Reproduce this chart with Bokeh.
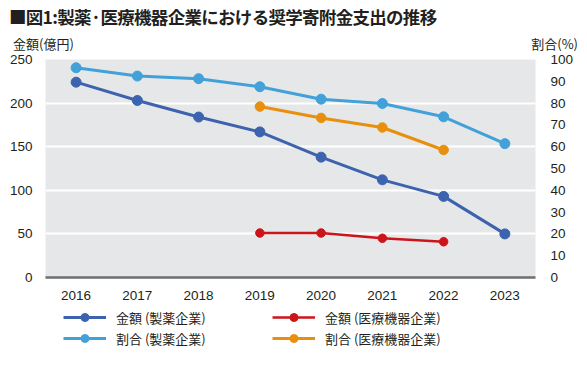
from bokeh.plotting import figure
from bokeh.models import Range1d, LinearAxis, FixedTicker, Legend, LegendItem, Div
from bokeh.layouts import column
from bokeh.embed import file_html
from bokeh.resources import INLINE

years = ["2016", "2017", "2018", "2019", "2020", "2021", "2022", "2023"]
pharma_amount = [224, 203, 184, 167, 138, 112, 93, 50]
pharma_share = [96.2, 92.4, 91.2, 87.5, 81.8, 79.8, 73.7, 61.4]
device_years = ["2019", "2020", "2021", "2022"]
device_amount = [51, 51, 45, 41]
device_share = [78.4, 73.2, 68.8, 58.5]
left_ticks = [0, 50, 100, 150, 200, 250]
right_ticks = [0, 10, 20, 30, 40, 50, 60, 70, 80, 90, 100]

title_text = "■図1:製薬·医療機器企業における奨学寄附金支出の推移"
left_unit = "金額(億円)"
right_unit = "割合(%)"
labels = ["金額 (製薬企業)", "割合 (製薬企業)", "金額 (医療機器企業)", "割合 (医療機器企業)"]

NUM_FONT = "Liberation Sans"
JP_FONT = "Noto Sans CJK JP"

c_dark = "#3d63ae"
c_light = "#42a1d9"
c_red = "#cc141b"
c_orange = "#e8900e"

styles = [
    dict(color=c_dark, lw=3, size=10),
    dict(color=c_light, lw=3, size=10),
    dict(color=c_red, lw=2.5, size=8.5),
    dict(color=c_orange, lw=3, size=9.5),
]

header = Div(
    text=(
        '<div style="position:relative;width:587px;height:52px;font-family:\'Noto Sans CJK JP\';color:#231f20;">'
        f'<span style="position:absolute;left:9px;top:5px;font-size:17.5px;font-weight:bold;letter-spacing:-0.7px;white-space:nowrap;line-height:24px;">{title_text}</span>'
        f'<span style="position:absolute;left:13px;top:35px;font-size:13px;white-space:nowrap;line-height:18px;">{left_unit}</span>'
        f'<span style="position:absolute;right:9px;top:35px;font-size:13px;white-space:nowrap;line-height:18px;">{right_unit}</span>'
        '</div>'
    ),
    width=587, height=52, margin=0,
)

p = figure(x_range=years, y_range=Range1d(0, 250), width=587, height=255,
           output_backend="svg", toolbar_location=None,
           min_border_left=45, min_border_right=52, min_border_top=7, min_border_bottom=30)
p.extra_y_ranges = {"pct": Range1d(0, 100)}

p.background_fill_color = "#e6e7e8"
p.border_fill_color = "white"
p.outline_line_color = None
p.xgrid.grid_line_color = None
p.ygrid.grid_line_color = "white"
p.ygrid.grid_line_width = 2
p.ygrid.ticker = FixedTicker(ticks=left_ticks)

la = p.yaxis[0]
la.ticker = FixedTicker(ticks=left_ticks)
la.axis_line_color = None
la.major_tick_line_color = None
la.minor_tick_line_color = None
la.major_label_text_font = NUM_FONT
la.major_label_text_font_size = "13.5px"
la.major_label_text_color = "#231f20"
la.major_label_standoff = 7

ra = LinearAxis(y_range_name="pct", ticker=FixedTicker(ticks=right_ticks))
ra.axis_line_color = None
ra.major_tick_line_color = None
ra.minor_tick_line_color = None
ra.major_label_text_font = NUM_FONT
ra.major_label_text_font_size = "13.5px"
ra.major_label_text_color = "#231f20"
ra.major_label_standoff = 9
p.add_layout(ra, "right")

xa = p.xaxis[0]
xa.axis_line_color = "#6d6e71"
xa.axis_line_width = 2.5
xa.major_tick_line_color = None
xa.minor_tick_line_color = None
xa.major_label_text_font = NUM_FONT
xa.major_label_text_font_size = "13.5px"
xa.major_label_text_color = "#231f20"
xa.major_label_standoff = 7

series = [
    (years, pharma_amount, "default"),
    (years, pharma_share, "pct"),
    (device_years, device_amount, "default"),
    (device_years, device_share, "pct"),
]
for (xs, ys, rng), st in zip(series, styles):
    p.line(xs, ys, line_color=st["color"], line_width=st["lw"], y_range_name=rng)
    p.scatter(xs, ys, size=st["size"], fill_color=st["color"], line_color=st["color"], y_range_name=rng)

# legend strip: same series re-plotted far outside its visible range, only the legend shows
q = figure(width=587, height=63, output_backend="svg", toolbar_location=None,
           x_axis_type=None, y_axis_type=None, x_range=years, y_range=Range1d(1000, 1001),
           min_border=0)
q.outline_line_color = None
q.xgrid.grid_line_color = None
q.ygrid.grid_line_color = None
q.background_fill_color = "white"
q.border_fill_color = "white"
items = []
for lab, (xs, ys, rng), st in zip(labels, series, styles):
    lr = q.line(xs, ys, line_color=st["color"], line_width=st["lw"])
    sr = q.scatter(xs, ys, size=st["size"], fill_color=st["color"], line_color=st["color"])
    items.append(LegendItem(label=lab, renderers=[lr, sr]))

legend = Legend(items=items, nrows=2, location=(18, 22))
legend.glyph_width = 43
legend.glyph_height = 20
legend.label_standoff = 10
legend.label_width = 155
legend.spacing = 1
legend.padding = 0
legend.margin = 0
legend.background_fill_alpha = 0
legend.border_line_color = None
legend.label_text_font = JP_FONT
legend.label_text_font_size = "13px"
legend.label_text_color = "#231f20"
q.add_layout(legend, "center")

layout = column(header, p, q, spacing=0)
open("out.html", "w").write(file_html(layout, INLINE))
